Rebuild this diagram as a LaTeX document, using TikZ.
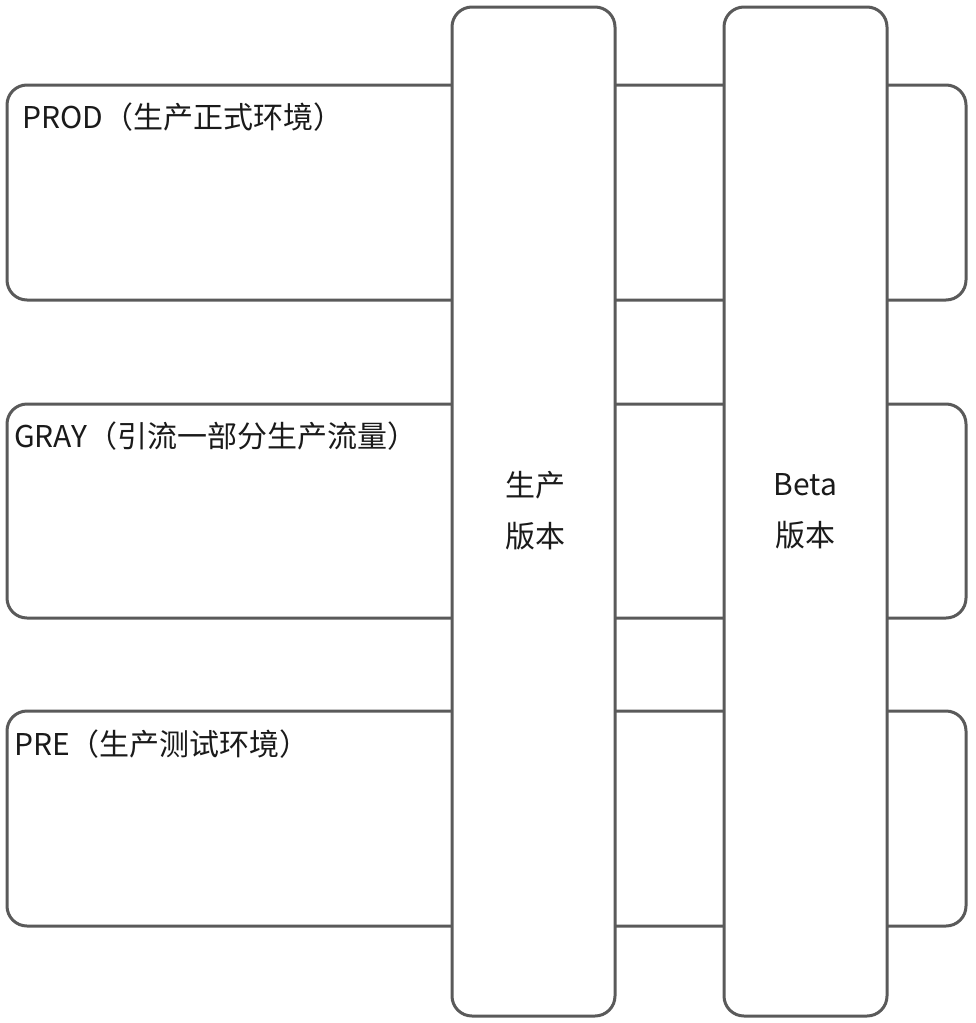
\documentclass[tikz,border=0pt]{standalone}
\usepackage{fontspec}
\setmainfont{Noto Sans CJK SC}
\usetikzlibrary{positioning}
\definecolor{edge}{HTML}{5A5A5A}
\definecolor{ink}{HTML}{1A1A1A}
\tikzset{
  envbox/.style={draw=edge, line width=3pt, rounded corners=20pt, fill=white, inner sep=0pt},
  verbox/.style={draw=edge, line width=3pt, rounded corners=20pt, fill=white, inner sep=0pt},
  lbl/.style={text=ink, font=\fontsize{30}{36}\selectfont, inner sep=0pt, anchor=base west},
  vlbl/.style={text=ink, font=\fontsize{30}{51}\selectfont, inner sep=0pt, align=center}
}
\begin{document}
\begin{tikzpicture}[x=1pt,y=-1pt]
\useasboundingbox (0,0) rectangle (976,1023);
% horizontal environment boxes
\node[envbox, minimum width=959pt, minimum height=215pt] (prod) at (486.5,192.5) {};
\node[envbox, minimum width=959pt, minimum height=214pt] (gray) at (486.5,511) {};
\node[envbox, minimum width=959pt, minimum height=215pt] (pre) at (486.5,818.5) {};
% vertical version boxes
\node[verbox, minimum width=163pt, minimum height=1009pt] (prodver) at (533.5,511.5) {};
\node[verbox, minimum width=163pt, minimum height=1009pt] (betaver) at (805.5,511.5) {};
% labels
\node[lbl] (prodlbl) at (22,128) {PROD（生产正式环境）};
\node[lbl] (graylbl) at (14,447) {GRAY（引流一部分生产流量）};
\node[lbl] (prelbl) at (14,755) {PRE（生产测试环境）};
\node[vlbl] (prodvlbl) at (535.5,511) {生产\\版本};
\node[vlbl] (betavlbl) at (805.5,511) {Beta\\版本};
\end{tikzpicture}
\end{document}
